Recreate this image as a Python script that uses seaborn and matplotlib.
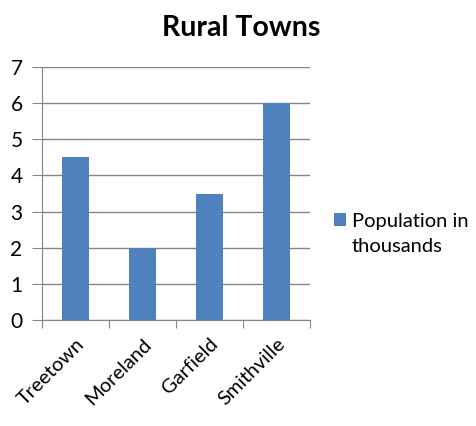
import matplotlib
matplotlib.use("Agg")
import matplotlib.pyplot as plt
import seaborn as sns
import pandas as pd

towns = ["Treetown", "Moreland", "Garfield", "Smithville"]
population = [4.5, 2, 3.5, 6]
series_name = ["Population in", "thousands"]

BAR_COLOR = "#4F81BD"
GRID_COLOR = "#868686"

sns.set_style("white")
plt.rcParams["font.family"] = ["Lato", "DejaVu Sans"]
plt.rcParams["text.color"] = "black"
plt.rcParams["xtick.color"] = "black"
plt.rcParams["ytick.color"] = "black"

df = pd.DataFrame({"town": towns, "pop": population, "series": series_name[0]})

fig = plt.figure(figsize=(4.77, 4.26), dpi=100)
ax = fig.add_axes([42 / 477, 1 - 320 / 426, 268 / 477, 253 / 426])

sns.barplot(data=df, x="town", y="pop", hue="series", palette=[BAR_COLOR],
            width=0.4, ax=ax, saturation=1, legend=True, linewidth=0)

ax.set_ylim(0, 7)
ax.set_xlim(-0.5, 3.5)
ax.set_yticks(range(0, 8))
ax.yaxis.grid(True, color=GRID_COLOR, linewidth=1)
ax.set_axisbelow(True)
for side in ["top", "right"]:
    ax.spines[side].set_visible(False)
for side in ["left", "bottom"]:
    ax.spines[side].set_color(GRID_COLOR)
ax.set_xlabel("")
ax.set_ylabel("")
ax.set_xticks([-0.5, 0.5, 1.5, 2.5, 3.5], minor=False)
ax.set_xticklabels([])
ax.set_xticks(range(4), minor=True)
ax.set_xticklabels(towns, minor=True, rotation=45, ha="right", va="top",
                   rotation_mode="anchor", fontsize=14.5)
ax.tick_params(axis="x", which="major", direction="out", length=6,
               color=GRID_COLOR, bottom=True)
ax.tick_params(axis="x", which="minor", length=0, pad=11)
ax.tick_params(axis="y", direction="out", length=7, color=GRID_COLOR,
               left=True, labelsize=15, pad=7)

# legend: first line with the square, second line below it
ax.legend(loc="center left", bbox_to_anchor=(1.06, 0.391), frameon=False,
          fontsize=14.5, handlelength=0.57, handleheight=0.57, handletextpad=0.3,
          borderaxespad=0)
ax.text(1.157, 0.292, series_name[1], transform=ax.transAxes, fontsize=14.5,
        ha="left", va="center")

fig.suptitle("Rural Towns", x=0.505, y=0.965, fontsize=20.5, fontweight="bold")

fig.savefig("out.png", dpi=100)
